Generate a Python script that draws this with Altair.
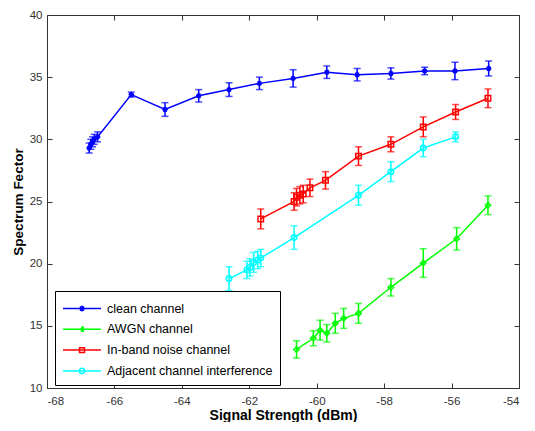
import altair as alt
import pandas as pd

series = ["clean channel", "AWGN channel", "In-band noise channel", "Adjacent channel interference"]
colors = ["#0000ff", "#00ff00", "#ff0000", "#00ffff"]

clean_x = [-66.75, -66.7, -66.65, -66.6, -66.5, -65.5, -64.5, -63.5, -62.6, -61.7, -60.7, -59.7, -58.8, -57.8, -56.8, -55.9, -54.9]
clean_y = [29.3, 29.6, 29.8, 30.0, 30.2, 33.6, 32.4, 33.5, 34.0, 34.5, 34.9, 35.4, 35.2, 35.3, 35.5, 35.5, 35.7]
clean_e = [0.4, 0.4, 0.4, 0.4, 0.4, 0.2, 0.55, 0.5, 0.55, 0.5, 0.7, 0.5, 0.5, 0.45, 0.3, 0.7, 0.6]

awgn_x = [-60.6, -60.1, -59.9, -59.7, -59.45, -59.2, -58.76, -57.8, -56.84, -55.85, -54.92]
awgn_y = [13.1, 14.0, 14.65, 14.4, 15.2, 15.6, 16.0, 18.1, 20.05, 22.0, 24.7]
awgn_e = [0.7, 0.6, 0.8, 0.7, 0.8, 0.8, 0.8, 0.7, 1.15, 0.9, 0.75]

inband_x = [-61.66, -60.67, -60.6, -60.5, -60.4, -60.2, -59.74, -58.76, -57.8, -56.84, -55.88, -54.92]
inband_y = [23.6, 25.0, 25.35, 25.5, 25.6, 26.1, 26.7, 28.65, 29.6, 31.0, 32.2, 33.3]
inband_e = [0.8, 0.7, 0.7, 0.7, 0.7, 0.7, 0.7, 0.75, 0.6, 0.8, 0.6, 0.75]

adj_x = [-62.6, -62.07, -61.98, -61.87, -61.75, -61.66, -60.67, -58.76, -57.8, -56.84, -55.88]
adj_y = [18.8, 19.5, 19.7, 20.1, 20.3, 20.45, 22.1, 25.5, 27.4, 29.3, 30.2]
adj_e = [0.95, 0.7, 0.7, 0.8, 0.7, 0.7, 0.95, 0.8, 0.8, 0.7, 0.4]

x_ticks = [-68, -66, -64, -62, -60, -58, -56, -54]
y_ticks = [10, 15, 20, 25, 30, 35, 40]

rows = []
for name, xs, ys, es in [
    (series[0], clean_x, clean_y, clean_e),
    (series[1], awgn_x, awgn_y, awgn_e),
    (series[2], inband_x, inband_y, inband_e),
    (series[3], adj_x, adj_y, adj_e),
]:
    for i, (xv, yv, ev) in enumerate(zip(xs, ys, es)):
        rows.append(dict(series=name, x=xv, y=yv, lo=yv - ev, hi=yv + ev, idx=i))
df = pd.DataFrame(rows)

STAR = "M-1,0H1M0,-1V1M-0.7,-0.7L0.7,0.7M-0.7,0.7L0.7,-0.7"
marker_shapes = [STAR, "diamond", "square", "circle"]
legend_shapes = [
    "M-1,0H3M1,-0.32V0.32M0.78,-0.22L1.22,0.22M0.78,0.22L1.22,-0.22",
    "M-1,0H3M1,-0.32V0.32M0.8,0L1.12,-0.2V0.2Z",
    "M-1,0H3M0.74,-0.26H1.26V0.26H0.74Z",
    "M-1,0H3M0.72,0A0.28,0.28,0,1,1,1.28,0A0.28,0.28,0,1,1,0.72,0",
]

FONT = "Liberation Sans"
xscale = alt.Scale(domain=[-68, -54], nice=False, zero=False)
yscale = alt.Scale(domain=[10, 40], nice=False, zero=False)
cscale = alt.Scale(domain=series, range=colors)

common = dict(tickSize=5, offset=-5, domain=False, grid=False, tickColor="#333333", tickWidth=1,
              labelColor="#333333", labelFont=FONT, labelFontSize=11.5,
              titleFont=FONT, titleFontWeight="bold", titleColor="#000000")

xaxis = alt.Axis(values=x_ticks, title="Signal Strength (dBm)", labelPadding=7, titlePadding=2,
                 titleFontSize=14, labelExpr="'' + datum.value", **common)
yaxis = alt.Axis(values=y_ticks, title="Spectrum Fector", labelPadding=5, titlePadding=4,
                 titleFontSize=13.5, **common)
xtop = alt.Axis(orient="top", values=x_ticks, labels=False, title="", tickSize=5, offset=-5,
                domain=False, grid=False, tickColor="#333333")
yright = alt.Axis(orient="right", values=y_ticks, labels=False, title="", tickSize=5, offset=-5,
                  domain=False, grid=False, tickColor="#333333")

base = alt.Chart(df)

lines = base.mark_line(strokeWidth=1.5).encode(
    x=alt.X("x:Q", scale=xscale, axis=xaxis),
    y=alt.Y("y:Q", scale=yscale, axis=yaxis),
    color=alt.Color("series:N", scale=cscale, legend=None),
    detail="series:N",
    order="idx:Q",
)

bars = base.mark_rule(strokeWidth=1.5).encode(
    x=alt.X("x:Q", scale=xscale, axis=xtop),
    y=alt.Y("lo:Q", scale=yscale, axis=yright),
    y2="hi:Q",
    color=alt.Color("series:N", scale=cscale, legend=None),
)

caps_lo = base.mark_tick(orient="horizontal", size=7, thickness=1.5).encode(
    x=alt.X("x:Q", scale=xscale, axis=None),
    y=alt.Y("lo:Q", scale=yscale, axis=None),
    color=alt.Color("series:N", scale=cscale, legend=None),
)
caps_hi = base.mark_tick(orient="horizontal", size=7, thickness=1.5).encode(
    x=alt.X("x:Q", scale=xscale, axis=None),
    y=alt.Y("hi:Q", scale=yscale, axis=None),
    color=alt.Color("series:N", scale=cscale, legend=None),
)

markers = base.mark_point(filled=False, strokeWidth=1.5, size=30, opacity=1).encode(
    x=alt.X("x:Q", scale=xscale, axis=None),
    y=alt.Y("y:Q", scale=yscale, axis=None),
    color=alt.Color("series:N", scale=cscale, legend=None),
    shape=alt.Shape("series:N", scale=alt.Scale(domain=series, range=marker_shapes), legend=None),
)

leg = dict(orient="none", legendX=8, legendY=276, title=None, strokeColor="#000000", fillColor="#ffffff",
           padding=7, labelFont=FONT, labelFontSize=12.5, labelColor="#000000", labelOffset=24,
           labelLimit=400, symbolSize=361, symbolStrokeWidth=1.5, rowPadding=3.8,
           symbolStrokeColor={"expr": "scale('color', datum.value)"})

legend_layer = base.mark_point(filled=False, strokeWidth=1.5, opacity=1).encode(
    x=alt.X("x:Q", scale=xscale, axis=None),
    y=alt.Y("y:Q", scale=yscale, axis=None),
    color=alt.Color("series:N", scale=cscale, legend=None),
    shape=alt.Shape("series:N", scale=alt.Scale(domain=series, range=legend_shapes), legend=alt.Legend(**leg)),
).transform_filter("datum.x > 1000")

chart = alt.layer(lines, bars, caps_lo, caps_hi, markers, legend_layer).resolve_scale(
    shape="independent"
).resolve_axis(x="independent", y="independent").properties(
    width=472, height=373,
    padding={"left": 39, "top": 7, "right": 8, "bottom": 34},
    autosize=alt.AutoSizeParams(type="none"),
    background="#ffffff",
).configure_view(stroke="#333333", strokeWidth=1)

chart.save("out.html", embed_options={"renderer": "svg", "actions": False})
